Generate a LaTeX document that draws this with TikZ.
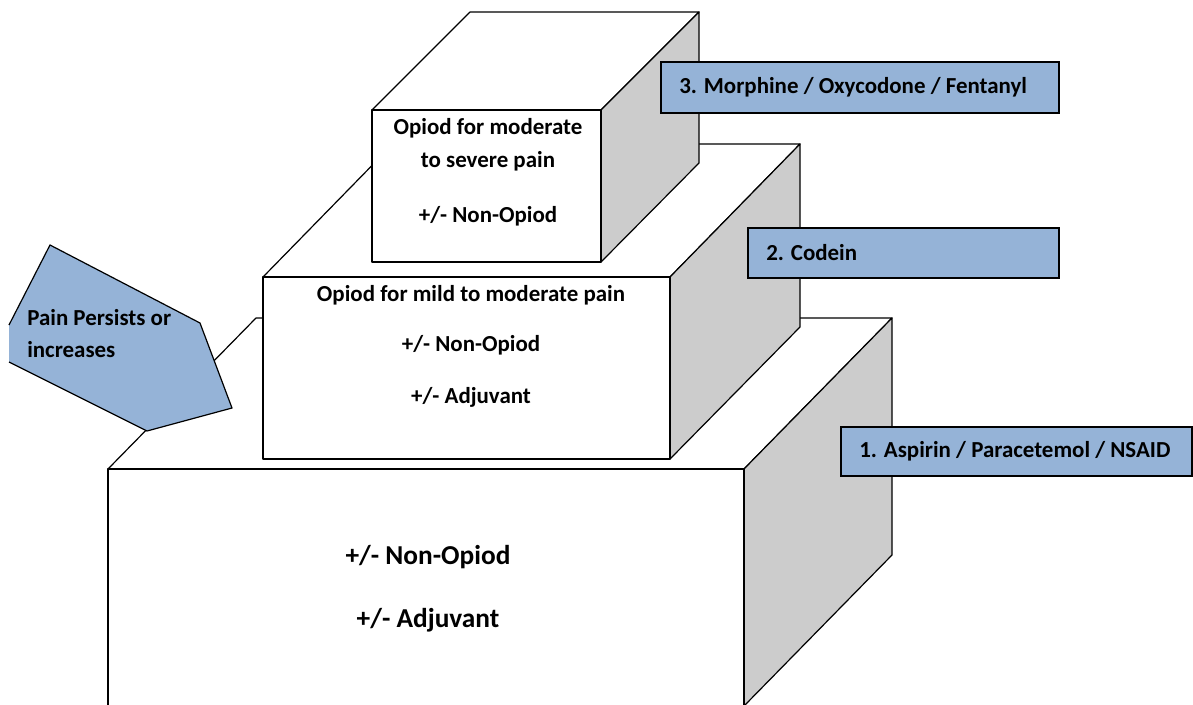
\documentclass[tikz,border=0pt]{standalone}
\usepackage{fontspec}
\setmainfont{Carlito}
\usepackage{tikz}

\definecolor{sidegrey}{HTML}{CCCCCC}
\definecolor{stepblue}{HTML}{95B3D7}

\begin{document}
\begin{tikzpicture}
[x=0.75pt,y=-0.75pt,%
  face/.style={draw,fill=white,line width=0.9pt,line join=round},%
  side/.style={face,fill=sidegrey},%
  drug/.style={draw,fill=stepblue,line width=0.9pt},%
  every node/.style={inner sep=0pt,font=\bfseries\fontsize{17.2}{21}\selectfont},%
  big/.style={font=\bfseries\fontsize{20.5}{24}\selectfont}]
\useasboundingbox (0,0) rectangle (1193,704);

% step 1
\begin{scope}
  \clip (0,0) rectangle (1193,704);
  \draw[face] (108,469) -- (256,318) -- (892,318) -- (744,469) -- cycle;
  \draw[side] (744,469) -- (892,318) -- (892,555) -- (744,706) -- cycle;
  \draw[face] (108,469) rectangle (744,712);
\end{scope}
\node[big] (s1a) at (428,557) {+/- Non-Opiod};
\node[big] (s1b) at (428,620) {+/- Adjuvant};

% pain arrow
\fill[stepblue] (9,325) -- (50,245) -- (200,323) -- (232,408)
  -- (147,431) -- (9,362) -- cycle;
\draw[line width=0.9pt,line join=round] (9,325) -- (50,245) -- (200,323)
  -- (232,408) -- (147,431) -- (9,362);
\node[anchor=west] (pain1) at (27,318) {Pain Persists or};
\node[anchor=west] (pain2) at (27,350) {increases};

% step 2
\draw[face] (263,277) -- (393,144) -- (800,144) -- (670,277) -- cycle;
\draw[side] (670,277) -- (800,144) -- (800,327) -- (670,459) -- cycle;
\draw[face] (263,277) rectangle (670,459);
\node (s2a) at (471,295) {Opiod for mild to moderate pain};
\node (s2b) at (471,345) {+/- Non-Opiod};
\node (s2c) at (471,397) {+/- Adjuvant};

% step 3
\draw[face] (372,110) -- (470,12) -- (699,12) -- (601,110) -- cycle;
\draw[side] (601,110) -- (699,12) -- (699,163) -- (601,262) -- cycle;
\draw[face] (372,110) rectangle (601,262);
\node (s3a) at (488,128) {Opiod for moderate};
\node (s3b) at (488,161) {to severe pain};
\node (s3c) at (488,216) {+/- Non-Opiod};

% drug labels
\draw[drug] (661,62) rectangle (1059,113);
\node[anchor=west] (drug3) at (679,87) {3. Morphine / Oxycodone / Fentanyl};
\draw[drug] (748,228) rectangle (1059,278);
\node[anchor=west] (drug2) at (766,253) {2. Codein};
\draw[drug] (841,427) rectangle (1192,476);
\node[anchor=west] (drug1) at (859,451) {1. Aspirin / Paracetemol / NSAID};
\end{tikzpicture}
\end{document}
